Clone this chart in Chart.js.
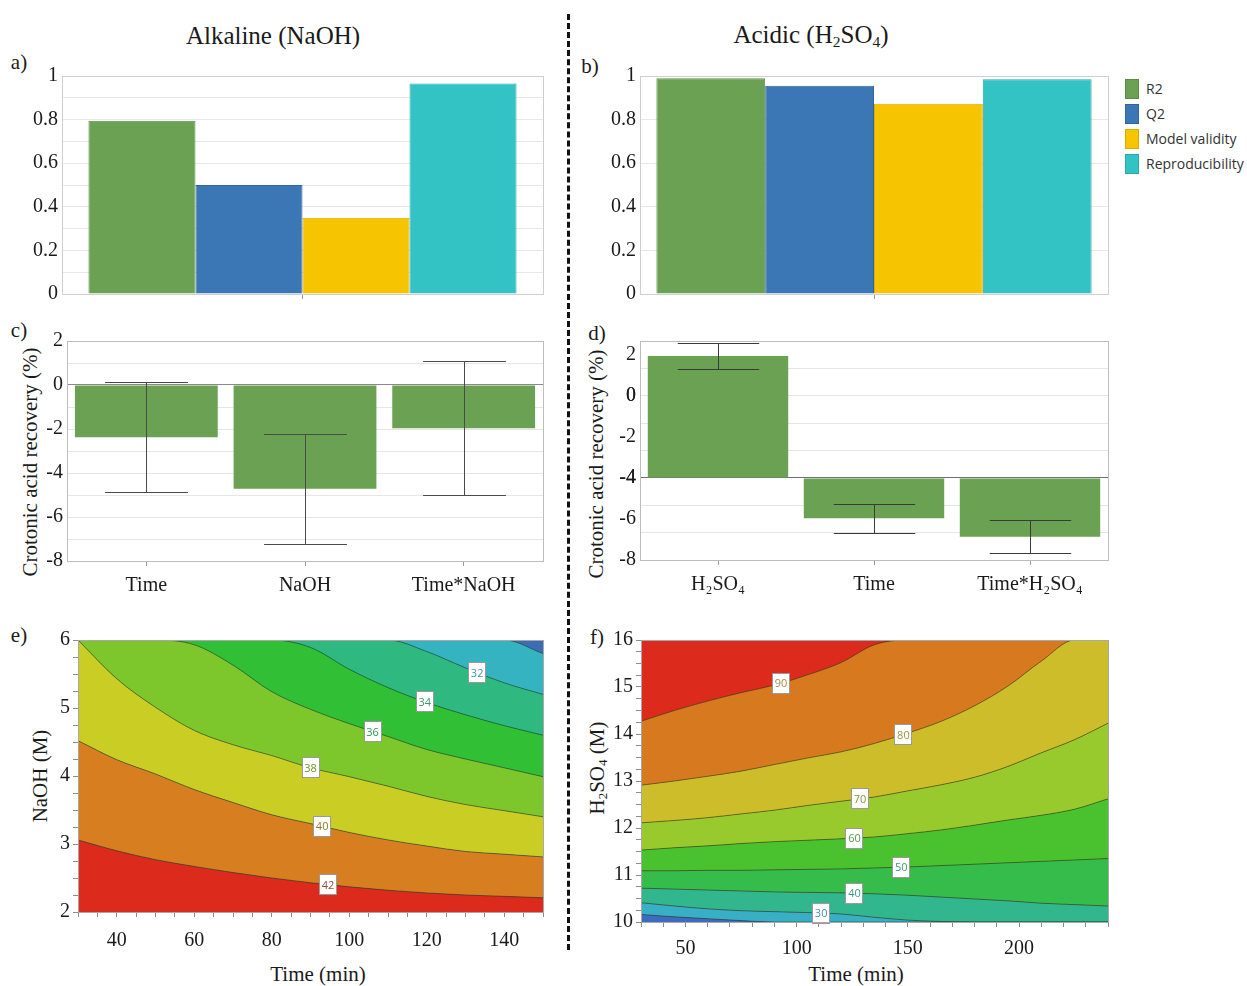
<!DOCTYPE html>
<html>
<head>
<meta charset="utf-8">
<script src="https://cdn.jsdelivr.net/npm/chart.js@4.4.1/dist/chart.umd.min.js"></script>
<style>
  body { margin: 0; background: #fff; width: 1247px; height: 986px; position: relative; overflow: hidden; }
  .pane { position: absolute; }
  .t { position: absolute; white-space: nowrap; font-family: 'Liberation Serif', serif; color: #1a1a1a; transform: translate(-50%, -50%); line-height: 1; }
  .rot { transform: translate(-50%, -50%) rotate(-90deg); }
  .t sub { font-size: 0.62em; vertical-align: -0.25em; }
  #divider { position: absolute; left: 567px; top: 14px; height: 936px; border-left: 3px dashed #111; }
  #legend { position: absolute; left: 1125px; top: 79px; font-family: 'Open Sans', sans-serif; font-size: 14px; color: #333; }
  #legend div { height: 25px; display: flex; align-items: flex-start; white-space: nowrap; }
  #legend span.sw { width: 12px; height: 18px; margin-right: 7px; display: inline-block; }
  #legend span.lb { line-height: 20px; }
</style>
</head>
<body>

<div class="t" style="left:273px;top:35px;font-size:25px">Alkaline (NaOH)</div>
<div class="t" style="left:811px;top:36px;font-size:25px">Acidic (H<sub>2</sub>SO<sub>4</sub>)</div>
<div id="divider"></div>
<div id="legend"></div>

<div class="t" style="left:19px;top:62px;font-size:21px">a)</div>
<div class="t" style="left:590px;top:66px;font-size:21px">b)</div>
<div class="t" style="left:19px;top:330px;font-size:21px">c)</div>
<div class="t" style="left:597px;top:333px;font-size:21px">d)</div>
<div class="t" style="left:19px;top:635px;font-size:21px">e)</div>
<div class="t" style="left:597px;top:637px;font-size:21px">f)</div>

<div class="t rot" style="left:30px;top:462px;font-size:21px">Crotonic acid recovery (%)</div>
<div class="t rot" style="left:596px;top:464px;font-size:21px">Crotonic acid recovery (%)</div>
<div class="t rot" style="left:40px;top:776px;font-size:21px">NaOH (M)</div>
<div class="t rot" style="left:598px;top:768px;font-size:21px">H<sub>2</sub>SO<sub>4</sub> (M)</div>
<div class="t" style="left:318px;top:974px;font-size:21px">Time (min)</div>
<div class="t" style="left:856px;top:974px;font-size:21px">Time (min)</div>

<canvas class="pane" id="cA" width="560" height="250" style="left:0;top:60px"></canvas>
<canvas class="pane" id="cB" width="672" height="250" style="left:575px;top:60px"></canvas>
<canvas class="pane" id="cC" width="560" height="270" style="left:0;top:325px"></canvas>
<canvas class="pane" id="cD" width="560" height="270" style="left:575px;top:325px"></canvas>
<canvas class="pane" id="cE" width="560" height="335" style="left:0;top:625px"></canvas>
<canvas class="pane" id="cF" width="560" height="335" style="left:575px;top:625px"></canvas>

<script>
// ---- data ----
// a, b: model summary
const fitNames = ['R2', 'Q2', 'Model validity', 'Reproducibility'];
const alkalineFit = [0.795, 0.50, 0.35, 0.966];
const acidicFit = [0.99, 0.955, 0.873, 0.985];

// c: scaled coefficients, NaOH model
const alkTerms = ['Time', 'NaOH', 'Time*NaOH'];
const alkCoef = [-2.38, -4.72, -1.97];
const alkErr = [2.50, 2.50, 3.05];

// d: scaled coefficients, H2SO4 model (bars drawn from -4)
const acidTerms = ['H₂SO₄', 'Time', 'Time*H₂SO₄'];
const acidCoef = [1.93, -5.97, -6.87];
const acidErr = [0.65, 0.72, 0.80];
const acidBase = -4;

// e: contour lines, NaOH (M) vs time (min)
const eTime = [30, 40, 50, 60, 70, 80, 90, 100, 110, 120, 130, 140, 150];
const eLevels = [42, 40, 38, 36, 34, 32, 30];
const e42 = [3.06, 2.90, 2.77, 2.67, 2.58, 2.50, 2.43, 2.37, 2.32, 2.28, 2.25, 2.23, 2.21];
const e40 = [4.52, 4.24, 4.03, 3.80, 3.61, 3.43, 3.30, 3.17, 3.06, 2.97, 2.89, 2.85, 2.81];
const e38 = [6.00, 5.43, 5.01, 4.67, 4.46, 4.30, 4.12, 3.99, 3.85, 3.70, 3.58, 3.49, 3.40];
const e36 = [6, 6, 6, 5.93, 5.63, 5.24, 4.98, 4.77, 4.58, 4.39, 4.25, 4.12, 3.99];
const e34 = [6, 6, 6, 6, 6, 6, 5.89, 5.57, 5.30, 5.08, 4.90, 4.74, 4.60];
const e32 = [6, 6, 6, 6, 6, 6, 6, 6, 6, 5.83, 5.59, 5.37, 5.20];
const e30 = [6, 6, 6, 6, 6, 6, 6, 6, 6, 6, 6, 6, 5.80];
const eLabelTime = [94.5, 93, 90, 106, 119.5, 133, null];

// f: contour lines, H2SO4 (M) vs time (min)
const fTime = [30, 45, 60, 75, 90, 105, 120, 135, 150, 165, 180, 195, 210, 225, 240];
const fLevels = [20, 30, 40, 50, 60, 70, 80, 90];
const f20 = [10.16, 10.11, 10.07, 10.03, 10, 10, 10, 10, 10, 10, 10, 10, 10, 10, 10];
const f30 = [10.41, 10.34, 10.28, 10.24, 10.22, 10.20, 10.17, 10.10, 10.04, 10.01, 10, 10, 10, 10, 10];
const f40 = [10.72, 10.70, 10.68, 10.66, 10.64, 10.63, 10.62, 10.60, 10.57, 10.53, 10.49, 10.45, 10.40, 10.37, 10.34];
const f50 = [11.09, 11.09, 11.10, 11.10, 11.11, 11.12, 11.13, 11.15, 11.17, 11.20, 11.23, 11.26, 11.29, 11.32, 11.35];
const f60 = [11.53, 11.58, 11.62, 11.67, 11.71, 11.74, 11.77, 11.81, 11.88, 11.96, 12.06, 12.17, 12.27, 12.40, 12.62];
const f70 = [12.11, 12.16, 12.22, 12.30, 12.38, 12.48, 12.57, 12.66, 12.79, 12.92, 13.08, 13.31, 13.60, 13.88, 14.23];
const f80 = [12.91, 13.00, 13.10, 13.21, 13.35, 13.49, 13.62, 13.80, 14.02, 14.27, 14.60, 15.02, 15.55, 16, 16];
const f90 = [14.27, 14.50, 14.70, 14.88, 15.04, 15.26, 15.52, 15.90, 16, 16, 16, 16, 16, 16, 16];
const fLabelTime = [null, 111, 126, 147, 126, 128.5, 148, 93];

// ---- styles ----
const fitColors = ['#6aa152', '#3a77b4', '#f6c400', '#33c3c4'];
const fitBorders = ['#5b8f46', '#2f66a0', '#d9ad00', '#2aa9aa'];
const barGreen = '#6aa152';
const serif = 'Liberation Serif';
const ink = '#1a1a1a';
const eBands = ['#dc2a1c', '#d77e20', '#cacd24', '#7dc62b', '#30bf35', '#2fb980', '#36b3c1'];
const eTop = '#3b6db6';
const eInk = ['#9a4a30', '#8c7d1e', '#6f962a', '#2f9a45', '#3a9a6e', '#3a96a6', '#3a6da0'];
const fBands = ['#3b6cbf', '#39afc6', '#31b68e', '#36bc4a', '#4ac230', '#98c92d', '#cdbd2a', '#d6791f'];
const fTop = '#dc2a1c';
const fInk = ['#3a6da0', '#4a8fb0', '#3d9a8c', '#3d9a70', '#4f9a45', '#7c9a3a', '#9c9440', '#a88a40'];
const contourLine = 'rgba(25,55,25,0.55)';

Chart.defaults.animation = false;
Chart.defaults.font.family = serif;
Chart.defaults.color = ink;

// legend shared by a) and b), placed right of b)
const legendBox = document.getElementById('legend');
fitNames.forEach((n, i) => {
  const row = document.createElement('div');
  row.innerHTML = '<span class="sw" style="background:' + fitColors[i] + ';border:1px solid ' + fitBorders[i] + '"></span><span class="lb">' + n + '</span>';
  legendBox.appendChild(row);
});

// ---- plugins ----
const frame = {
  id: 'frame',
  afterDraw(chart, args, o) {
    if (!o.color) return;
    const a = chart.chartArea, c = chart.ctx;
    c.save();
    c.strokeStyle = o.color; c.lineWidth = 1;
    c.strokeRect(Math.round(a.left) + 0.5, Math.round(a.top) + 0.5, Math.round(a.right - a.left), Math.round(a.bottom - a.top));
    c.restore();
  }
};

const areaBg = {
  id: 'areaBg',
  beforeDraw(chart, args, o) {
    if (!o.color) return;
    const a = chart.chartArea, c = chart.ctx;
    c.save(); c.fillStyle = o.color;
    c.fillRect(a.left, a.top, a.right - a.left, a.bottom - a.top);
    c.restore();
  }
};

const errorBars = {
  id: 'errorBars',
  afterDatasetsDraw(chart, args, o) {
    if (!o.values) return;
    const meta = chart.getDatasetMeta(0), y = chart.scales.y, c = chart.ctx;
    const vals = chart.data.datasets[0].data;
    c.save();
    c.strokeStyle = o.color || '#555'; c.lineWidth = 1;
    meta.data.forEach((bar, i) => {
      const top = Math.round(y.getPixelForValue(vals[i] + o.values[i])) + 0.5;
      const bot = Math.round(y.getPixelForValue(vals[i] - o.values[i])) + 0.5;
      const x = Math.round(bar.x) + 0.5, hw = bar.width * 0.29;
      c.beginPath();
      c.moveTo(x, top); c.lineTo(x, bot);
      c.moveTo(x - hw, top); c.lineTo(x + hw, top);
      c.moveTo(x - hw, bot); c.lineTo(x + hw, bot);
      c.stroke();
    });
    c.restore();
  }
};

function interp(xs, ys, x) {
  for (let i = 1; i < xs.length; i++) {
    if (x <= xs[i]) {
      const t = (x - xs[i - 1]) / (xs[i] - xs[i - 1]);
      return ys[i - 1] + t * (ys[i] - ys[i - 1]);
    }
  }
  return ys[ys.length - 1];
}

const contourLabels = {
  id: 'contourLabels',
  afterDatasetsDraw(chart, args, o) {
    if (!o.at) return;
    const xs = chart.scales.x, ys = chart.scales.y, c = chart.ctx;
    c.save();
    c.font = '11px "Open Sans"';
    c.textAlign = 'center'; c.textBaseline = 'middle';
    chart.data.datasets.forEach((ds, i) => {
      const t = o.at[i];
      if (t == null) return;
      const px = xs.getPixelForValue(t);
      const py = ys.getPixelForValue(interp(o.time, o.lines[i], t));
      const w = 18, h = 21;
      c.fillStyle = '#fff';
      c.fillRect(Math.round(px - w / 2), Math.round(py - h / 2), w, h);
      c.strokeStyle = '#9a9a9a'; c.lineWidth = 1;
      c.strokeRect(Math.round(px - w / 2) + 0.5, Math.round(py - h / 2) + 0.5, w - 1, h - 1);
      c.fillStyle = o.ink[i];
      c.fillText(String(o.levels[i]), px, py + 1);
    });
    c.restore();
  }
};

const fixW = w => s => { s.width = w; };
const fixH = h => s => { s.height = h; };
const tickFont = { family: serif, size: 20 };

// ---- a) alkaline model summary ----
new Chart(document.getElementById('cA'), {
  type: 'bar',
  data: {
    labels: [''],
    datasets: fitNames.map((n, i) => ({
      label: n, data: [alkalineFit[i]],
      backgroundColor: fitColors[i], borderColor: fitBorders[i], borderWidth: 1,
      barPercentage: 1, categoryPercentage: 0.89
    }))
  },
  options: {
    responsive: false,
    layout: { padding: { top: 13, right: 17, left: 0, bottom: 0 } },
    plugins: { legend: { display: false }, tooltip: { enabled: false }, frame: { color: '#cfcfcf' } },
    scales: {
      x: { afterFit: fixH(14), grid: { offset: false, drawOnChartArea: false, tickLength: 5, color: '#999' },
           border: { color: '#999' }, ticks: { display: false } },
      y: { min: 0, max: 1, afterFit: fixW(62),
           ticks: { stepSize: 0.1, font: tickFont, padding: 4, autoSkip: false,
                    callback: v => Math.round(v * 10) % 2 === 0 ? String(+v.toFixed(1)) : '' },
           grid: { color: '#e8e8e8', drawTicks: false }, border: { color: '#999' } }
    }
  },
  plugins: [frame]
});

// ---- b) acidic model summary ----
new Chart(document.getElementById('cB'), {
  type: 'bar',
  data: {
    labels: [''],
    datasets: fitNames.map((n, i) => ({
      label: n, data: [acidicFit[i]],
      backgroundColor: fitColors[i], borderColor: fitBorders[i], borderWidth: 1,
      barPercentage: 1, categoryPercentage: 0.93
    }))
  },
  options: {
    responsive: false,
    layout: { padding: { top: 15, right: 139, left: 0, bottom: 0 } },
    plugins: { legend: { display: false }, tooltip: { enabled: false }, frame: { color: '#cfcfcf' } },
    scales: {
      x: { afterFit: fixH(13), grid: { offset: false, drawOnChartArea: false, tickLength: 5, color: '#999' },
           border: { color: '#999' }, ticks: { display: false } },
      y: { min: 0, max: 1, afterFit: fixW(65),
           ticks: { stepSize: 0.2, font: tickFont, padding: 4,
                    callback: v => String(+v.toFixed(1)) },
           grid: { color: '#e8e8e8', drawTicks: false }, border: { color: '#999' } }
    }
  },
  plugins: [frame]
});

// ---- c) NaOH coefficients ----
new Chart(document.getElementById('cC'), {
  type: 'bar',
  data: {
    labels: alkTerms,
    datasets: [{ data: alkCoef, backgroundColor: barGreen, barPercentage: 1, categoryPercentage: 0.9 }]
  },
  options: {
    responsive: false,
    layout: { padding: { top: 11, right: 17, left: 0, bottom: 0 } },
    plugins: { legend: { display: false }, tooltip: { enabled: false },
               frame: { color: '#bdbdbd' }, errorBars: { values: alkErr, color: '#4a4a4a' } },
    scales: {
      x: { afterFit: fixH(34), grid: { offset: false, drawOnChartArea: false, tickLength: 5, color: '#999' },
           border: { display: false }, ticks: { font: tickFont, padding: 8 } },
      y: { min: -8, max: 2, afterFit: fixW(67),
           ticks: { stepSize: 1, font: tickFont, padding: 4, autoSkip: false,
                    callback: v => v % 2 === 0 ? String(v) : '' },
           grid: { color: c => c.tick && c.tick.value === 0 ? '#8a8a8a' : '#e6e6e6', drawTicks: false },
           border: { color: '#999' } }
    }
  },
  plugins: [frame, errorBars]
});

// ---- d) H2SO4 coefficients ----
const dGridStep = 4 / 3;
new Chart(document.getElementById('cD'), {
  type: 'bar',
  data: {
    labels: acidTerms,
    datasets: [{ data: acidCoef, base: acidBase, backgroundColor: barGreen, barPercentage: 1, categoryPercentage: 0.9 }]
  },
  options: {
    responsive: false,
    layout: { padding: { top: 11, right: 27, left: 0, bottom: 0 } },
    plugins: { legend: { display: false }, tooltip: { enabled: false },
               frame: { color: '#bdbdbd' }, errorBars: { values: acidErr, color: '#3a3a3a' } },
    scales: {
      x: { afterFit: fixH(35), grid: { offset: false, drawOnChartArea: false, tickLength: 5, color: '#999' },
           border: { display: false }, ticks: { font: tickFont, padding: 8 } },
      y: { min: -8, max: 8 / 3, afterFit: fixW(65),
           afterBuildTicks: s => {
             const vals = [];
             for (let v = -8; v <= 2; v += 2) vals.push(v);
             for (let k = 1; k <= 8; k++) vals.push(-8 + k * dGridStep);
             s.ticks = vals.sort((a, b) => a - b).map(value => ({ value }));
           },
           ticks: { font: tickFont, padding: 4, autoSkip: false,
                    callback: v => (Number.isInteger(v) && v % 2 === 0) ? String(v) : '' },
           grid: { drawTicks: false,
                   color: c => {
                     if (!c.tick) return 'transparent';
                     const v = c.tick.value;
                     if (Math.abs(v - acidBase) < 1e-6) return '#6f6f6f';
                     const k = (v + 8) / dGridStep;
                     return Math.abs(k - Math.round(k)) < 1e-6 ? '#e6e6e6' : 'transparent';
                   } },
           border: { color: '#999' } }
    }
  },
  plugins: [frame, errorBars]
});

// ---- contour helpers ----
function contourSets(time, lines, bands) {
  return lines.map((ys, i) => ({
    data: time.map((t, j) => ({ x: t, y: ys[j] })),
    borderColor: contourLine, borderWidth: 1, pointRadius: 0,
    cubicInterpolationMode: 'monotone',
    backgroundColor: bands[i],
    fill: i === 0 ? 'start' : '-1'
  }));
}

function contourChart(id, cfg) {
  return new Chart(document.getElementById(id), {
    type: 'line',
    data: { datasets: contourSets(cfg.time, cfg.lines, cfg.bands) },
    options: {
      responsive: false,
      layout: { padding: cfg.padding },
      plugins: {
        legend: { display: false }, tooltip: { enabled: false },
        filler: { drawTime: 'beforeDatasetsDraw' },
        areaBg: { color: cfg.top },
        frame: { color: '#a8a8a8' },
        contourLabels: { at: cfg.labelAt, time: cfg.time, lines: cfg.lines, levels: cfg.levels, ink: cfg.ink }
      },
      scales: {
        x: { type: 'linear', min: cfg.xMin, max: cfg.xMax, afterFit: fixH(cfg.xH),
             ticks: { stepSize: cfg.xStep, font: tickFont, padding: cfg.xPad, autoSkip: false, maxRotation: 0,
                      callback: v => v % cfg.xLab === 0 ? String(v) : '' },
             grid: { drawOnChartArea: false, tickLength: 5, color: '#8c8c8c' }, border: { color: '#8c8c8c' } },
        y: { min: cfg.yMin, max: cfg.yMax, afterFit: fixW(cfg.yW),
             ticks: { stepSize: 0.25, font: tickFont, padding: 3, autoSkip: false,
                      callback: v => Number.isInteger(v) ? String(v) : '' },
             grid: { drawOnChartArea: false, tickLength: 5, color: '#8c8c8c' }, border: { color: '#8c8c8c' } }
      }
    },
    plugins: [areaBg, frame, contourLabels]
  });
}

// ---- e) NaOH contour ----
contourChart('cE', {
  time: eTime, lines: [e42, e40, e38, e36, e34, e32, e30], levels: eLevels,
  bands: eBands, top: eTop, ink: eInk, labelAt: eLabelTime,
  padding: { top: 15, right: 17, left: 0, bottom: 0 },
  xMin: 30, xMax: 150, xStep: 5, xLab: 20, xH: 48, xPad: 12,
  yMin: 2, yMax: 6, yW: 78
});

// ---- f) H2SO4 contour ----
contourChart('cF', {
  time: fTime, lines: [f20, f30, f40, f50, f60, f70, f80, f90], levels: fLevels,
  bands: fBands, top: fTop, ink: fInk, labelAt: fLabelTime,
  padding: { top: 11, right: 27, left: 0, bottom: 0 },
  xMin: 30, xMax: 240, xStep: 10, xLab: 50, xH: 38, xPad: 10,
  yMin: 10, yMax: 16, yW: 66
});
</script>
</body>
</html>
